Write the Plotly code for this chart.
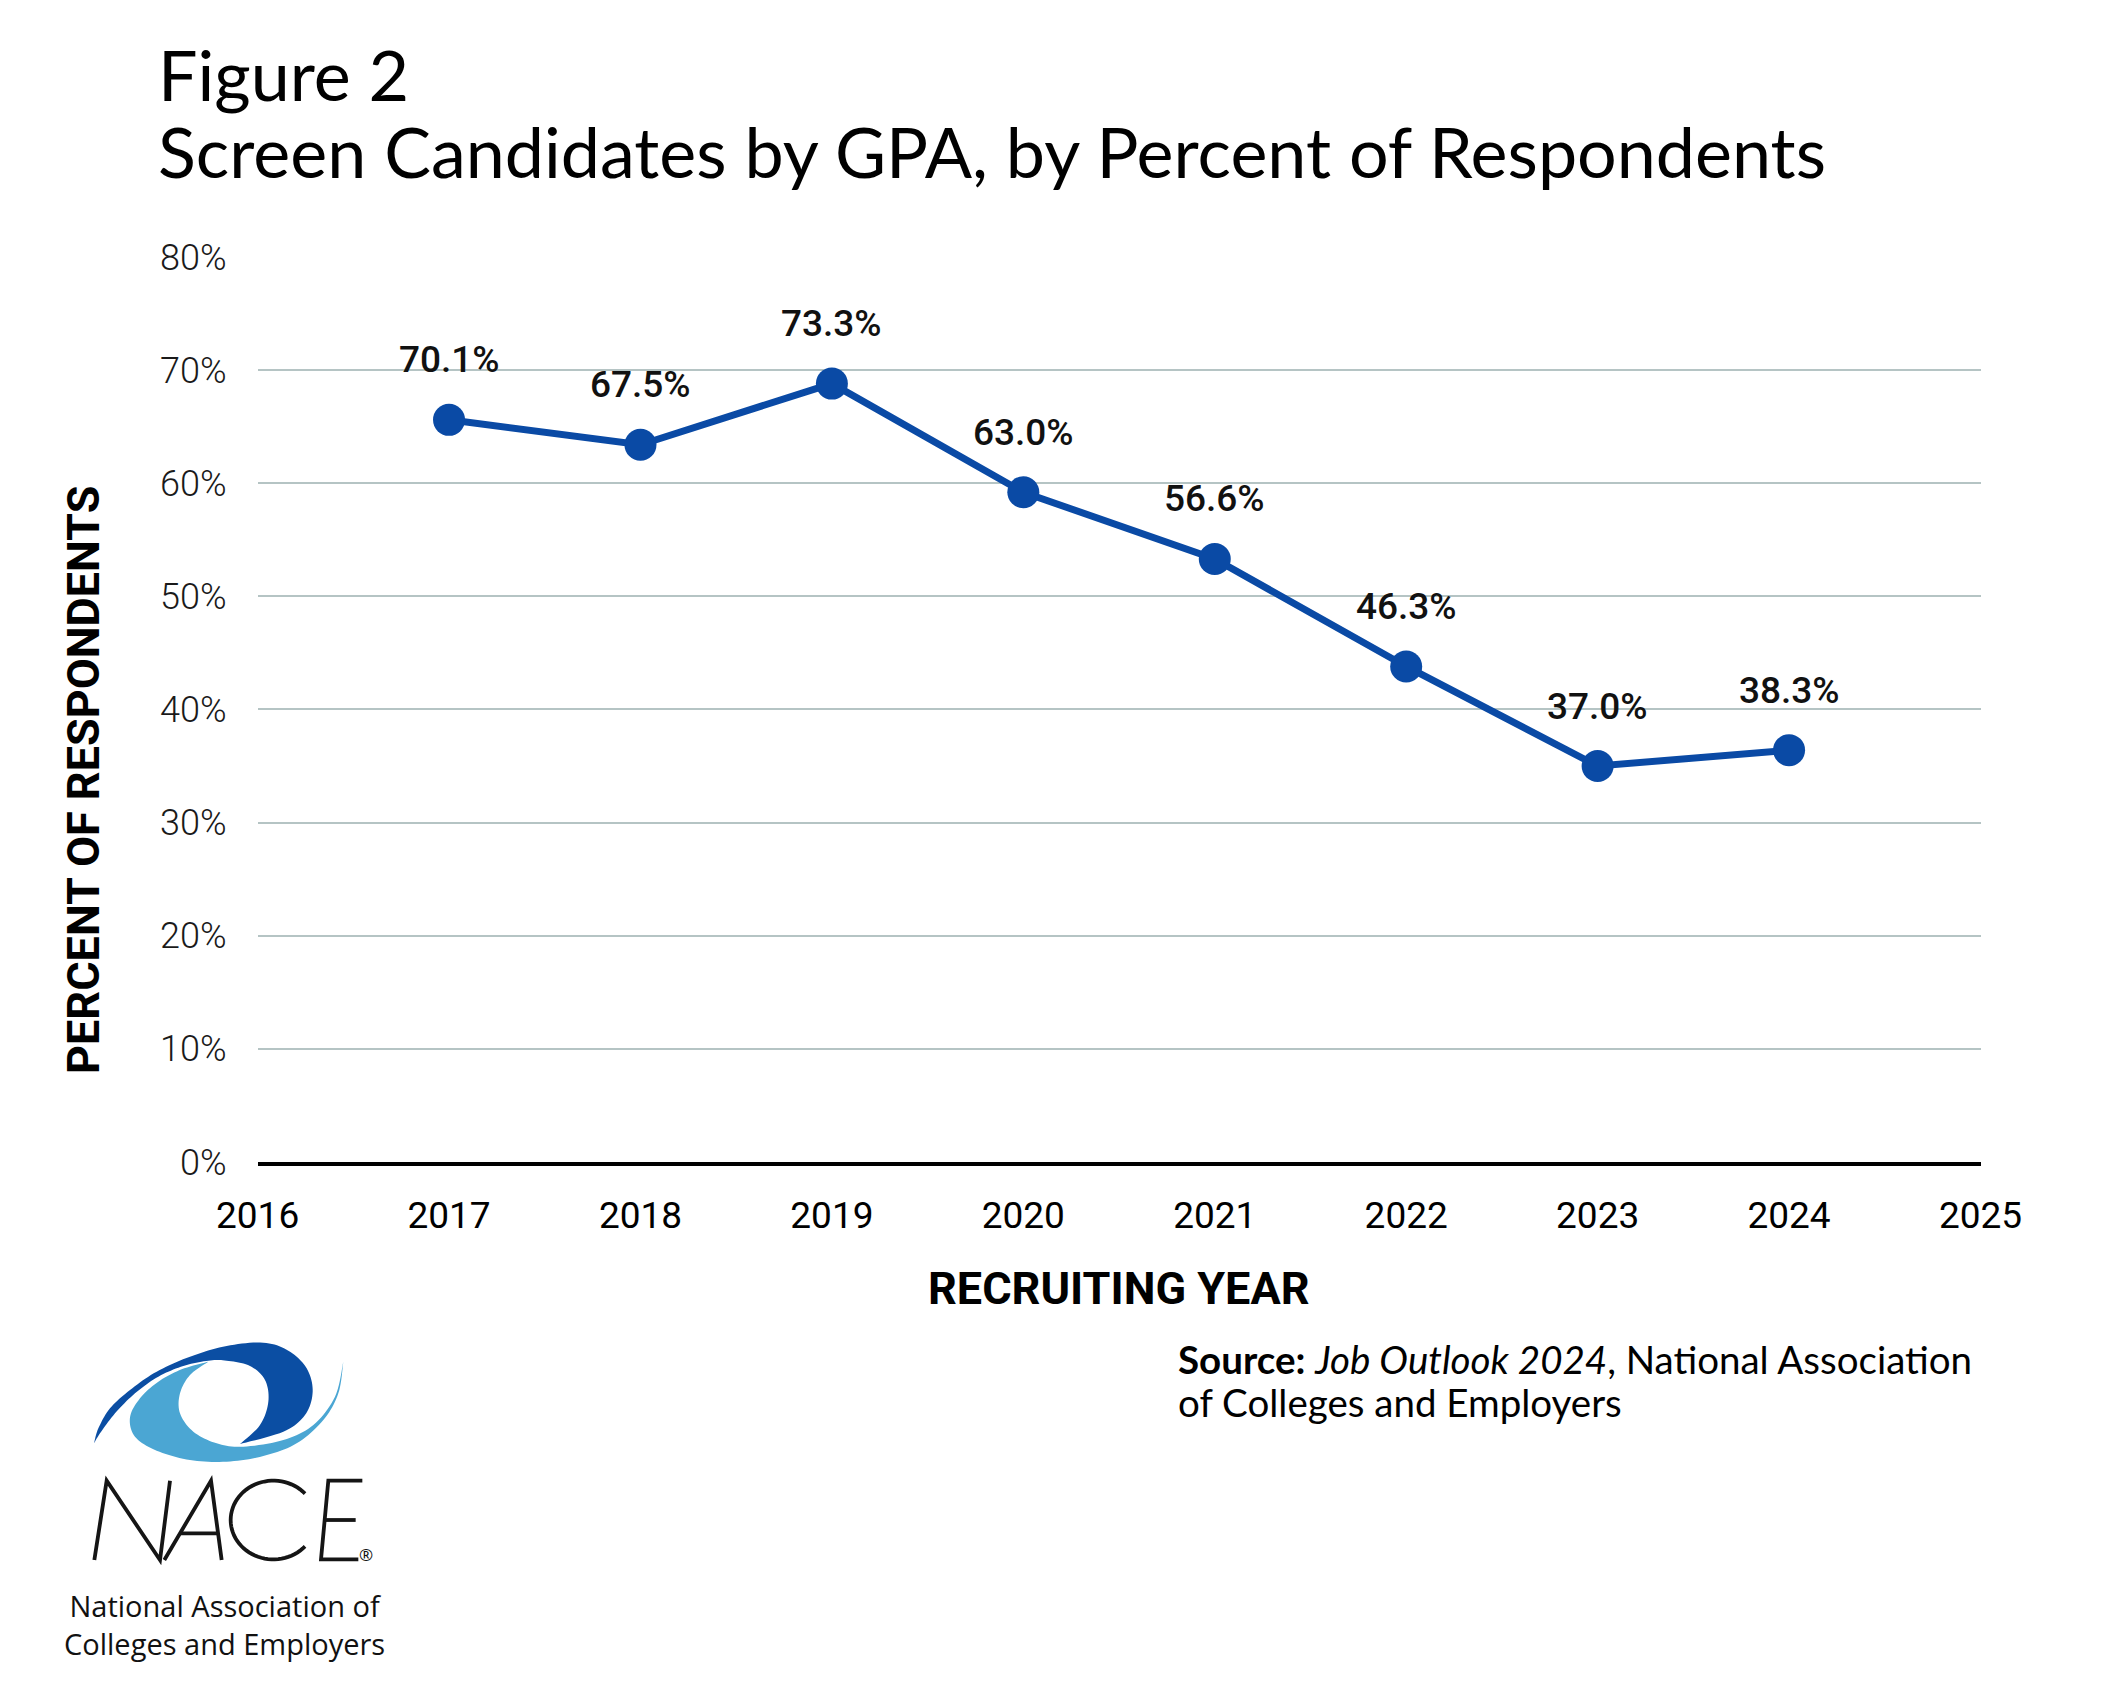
import math
import plotly.graph_objects as go

# ---------------- data ----------------
years = [2017, 2018, 2019, 2020, 2021, 2022, 2023, 2024]
plotted_pct = [65.6, 63.4, 68.8, 59.2, 53.3, 43.8, 35.0, 36.4]
label_text = ["70.1%", "67.5%", "73.3%", "63.0%", "56.6%", "46.3%", "37.0%", "38.3%"]
x_ticks = list(range(2016, 2026))
y_ticks = list(range(0, 90, 10))
y_tick_text = [f"{v}%" for v in y_ticks]

W, H = 2104, 1700
BLUE = "#0a4aa5"
DARK_LOGO = "#0b4ea3"
LIGHT_LOGO = "#4ba6d3"
GRID = "#b5c4c4"


def pxx(x):
    return x / W


def pxy(y):
    return 1 - y / H


fig = go.Figure()
fig.add_trace(go.Scatter(
    x=years, y=plotted_pct, mode="lines+markers",
    line=dict(color=BLUE, width=7),
    marker=dict(size=32, color=BLUE),
    hoverinfo="skip", showlegend=False,
))

annotations = []
for xv, yv, t in zip(years, plotted_pct, label_text):
    annotations.append(dict(
        x=xv, y=yv, xref="x", yref="y", text=t, showarrow=False,
        yshift=60, font=dict(family="Roboto", size=37, color="#111111", weight=500),
    ))

# titles
annotations.append(dict(x=pxx(156), y=pxy(30), xref="paper", yref="paper", xanchor="left", yanchor="top",
                        text="Figure 2", showarrow=False,
                        font=dict(family="Lato", size=70, color="#000000")))
annotations.append(dict(x=pxx(156), y=pxy(106.5), xref="paper", yref="paper", xanchor="left", yanchor="top",
                        text="Screen Candidates by GPA, by Percent of Respondents", showarrow=False,
                        font=dict(family="Lato", size=70, color="#000000")))
# axis titles
annotations.append(dict(x=pxx(84), y=pxy(780), xref="paper", yref="paper", xanchor="center", yanchor="middle",
                        text="PERCENT OF RESPONDENTS", textangle=-90, showarrow=False,
                        font=dict(family="Roboto", size=45, color="#000000", weight=700)))
annotations.append(dict(x=pxx(1119), y=pxy(1288), xref="paper", yref="paper", xanchor="center", yanchor="middle",
                        text="RECRUITING YEAR", showarrow=False,
                        font=dict(family="Roboto", size=45, color="#000000", weight=700)))
# source
annotations.append(dict(x=pxx(1176), y=pxy(1334), xref="paper", yref="paper", xanchor="left", yanchor="top",
                        align="left", showarrow=False,
                        text="<b>Source:</b> <i>Job Outlook 2024</i>, National Association",
                        font=dict(family="Lato", size=38.5, color="#000000")))
annotations.append(dict(x=pxx(1176), y=pxy(1377), xref="paper", yref="paper", xanchor="left", yanchor="top",
                        align="left", showarrow=False,
                        text="of Colleges and Employers",
                        font=dict(family="Lato", size=38.5, color="#000000")))
# logo caption
annotations.append(dict(x=pxx(224), y=pxy(1584), xref="paper", yref="paper", xanchor="center", yanchor="top",
                        align="center", showarrow=False,
                        text="National Association of<br>Colleges and Employers",
                        font=dict(family="Open Sans", size=29, color="#111111")))
annotations.append(dict(x=pxx(366), y=pxy(1554), xref="paper", yref="paper", xanchor="center", yanchor="middle",
                        text="®", showarrow=False,
                        font=dict(family="Open Sans", size=17, color="#111111")))

# ---------------- logo drawing (decoration) ----------------

def catmull(points, n=10):
    out = []
    pts = [points[0]] + points + [points[-1]]
    for i in range(1, len(pts) - 2):
        p0, p1, p2, p3 = pts[i - 1], pts[i], pts[i + 1], pts[i + 2]
        for k in range(n):
            t = k / n
            t2, t3 = t * t, t * t * t
            x = 0.5 * ((2 * p1[0]) + (-p0[0] + p2[0]) * t + (2 * p0[0] - 5 * p1[0] + 4 * p2[0] - p3[0]) * t2 + (-p0[0] + 3 * p1[0] - 3 * p2[0] + p3[0]) * t3)
            y = 0.5 * ((2 * p1[1]) + (-p0[1] + p2[1]) * t + (2 * p0[1] - 5 * p1[1] + 4 * p2[1] - p3[1]) * t2 + (-p0[1] + 3 * p1[1] - 3 * p2[1] + p3[1]) * t3)
            out.append((x, y))
    out.append(points[-1])
    return out


def swoosh_pt(p):
    return (80 + p[0] / 3, 1330 + p[1] / 3)


def letter_pt(p):
    return (75 + p[0] / 3, 1470 + p[1] / 3)


def to_path(pts, close=True):
    s = "M " + " L ".join(f"{pxx(x):.5f},{pxy(y):.5f}" for x, y in pts)
    return s + (" Z" if close else "")


dark_outer = [(42, 340), (55, 295), (90, 235), (150, 180), (230, 125), (330, 80), (440, 48), (550, 38),
              (625, 62), (680, 115), (698, 185), (675, 255), (610, 305), (480, 342)]
dark_inner = [(480, 342), (540, 285), (565, 215), (555, 150), (510, 108), (440, 92), (385, 92), (310, 108),
              (235, 140), (165, 190), (105, 250), (60, 310), (42, 340)]
light_outer = [(385, 95), (305, 118), (235, 155), (180, 205), (150, 262), (165, 320), (230, 362), (330, 390),
               (440, 395), (550, 378), (650, 340), (730, 270), (775, 190), (790, 95)]
light_inner = [(790, 95), (765, 200), (700, 285), (610, 330), (490, 350), (410, 340), (340, 305), (300, 250),
               (300, 190), (330, 135), (385, 95)]

shapes = []
dark_pts = [swoosh_pt(p) for p in catmull(dark_outer) + catmull(dark_inner)]
light_pts = [swoosh_pt(p) for p in catmull(light_outer) + catmull(light_inner)]
shapes.append(dict(type="path", xref="paper", yref="paper", path=to_path(light_pts),
                   fillcolor=LIGHT_LOGO, line=dict(width=0), layer="above"))
shapes.append(dict(type="path", xref="paper", yref="paper", path=to_path(dark_pts),
                   fillcolor=DARK_LOGO, line=dict(width=0), layer="above"))

strokes = [
    [(58, 270), (95, 32), (255, 270), (285, 32)],
    [(268, 270), (408, 32), (440, 270)],
    [(318, 190), (428, 190)],
    [(862, 32), (760, 32), (738, 268), (850, 268)],
    [(749, 150), (842, 150)],
]
c_arc = []
for k in range(61):
    a = math.radians(42 + (318 - 42) * k / 60)
    c_arc.append((595 + 128 * math.cos(a), 150 - 118 * math.sin(a)))
strokes.append(c_arc)
for st in strokes:
    shapes.append(dict(type="path", xref="paper", yref="paper",
                       path=to_path([letter_pt(p) for p in st], close=False),
                       line=dict(color="#151515", width=3.8), layer="above"))

# ---------------- layout ----------------
fig.update_layout(
    template="none",
    width=W, height=H,
    margin=dict(l=0, r=0, t=0, b=0, pad=0, autoexpand=False),
    paper_bgcolor="white", plot_bgcolor="white",
    showlegend=False,
    annotations=annotations,
    shapes=shapes,
    xaxis=dict(
        domain=[257.6 / W, 1980.5 / W], range=[2016, 2025],
        tickmode="array", tickvals=x_ticks, ticktext=[str(v) for v in x_ticks],
        showgrid=False, zeroline=False, automargin=False,
        showline=True, linecolor="#000000", linewidth=4,
        ticks="", ticklabelstandoff=18,
        tickfont=dict(family="Roboto", size=37, color="#000000"),
        fixedrange=True,
    ),
    yaxis=dict(
        domain=[1 - 1162 / H, 1 - 256.9 / H], range=[0, 80],
        tickmode="array", tickvals=y_ticks, ticktext=y_tick_text,
        showgrid=True, gridcolor=GRID, gridwidth=1.6,
        zeroline=False, showline=False, automargin=False,
        ticks="", ticklabelstandoff=30,
        tickfont=dict(family="Roboto", size=36, color="#1a1a1a", weight=300),
        fixedrange=True,
    ),
)

fig.write_html("out.html")
